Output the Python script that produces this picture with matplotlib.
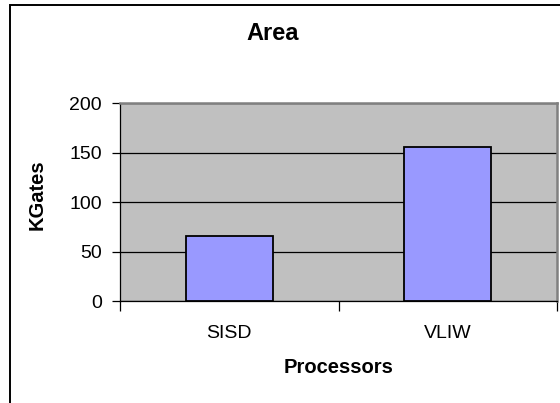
import matplotlib
matplotlib.use("Agg")
import matplotlib.pyplot as plt
from matplotlib.patches import Rectangle

categories = ["SISD", "VLIW"]
kgates = [66, 156]
y_ticks = [0, 50, 100, 150, 200]

plt.rcParams["font.family"] = ["Liberation Sans", "DejaVu Sans"]

fig = plt.figure(figsize=(5.6, 4.03), dpi=100)
W, H = 560, 403

# chart-area frame (runs off the right and bottom edges)
fig.patches.append(Rectangle((10 / W, -0.05), 1.0, 1 - 4.5 / H + 0.05,
                             transform=fig.transFigure, fill=False,
                             edgecolor="black", linewidth=1.4, zorder=0))

ax = fig.add_axes([120 / W, 1 - 301 / H, (557 - 120) / W, (301 - 103) / H])
ax.set_facecolor("#C0C0C0")

x = list(range(len(categories)))
ax.bar(x, kgates, width=0.4, color="#9999FF", edgecolor="black",
       linewidth=1.3, zorder=3)

ax.set_xlim(-0.5, len(categories) - 0.5)
ax.set_ylim(0, 200)
ax.set_yticks(y_ticks)
ax.yaxis.grid(True, color="black", linewidth=0.9, zorder=1)
ax.set_axisbelow(True)

ax.set_xticks(x)
ax.set_xticklabels(categories, fontsize=14)
ax.set_xticks([i - 0.5 for i in range(len(categories) + 1)], minor=True)
ax.tick_params(axis="x", which="major", length=0, pad=17)
ax.tick_params(axis="x", which="minor", length=7, width=0.9, color="black")
ax.tick_params(axis="y", length=6, width=0.9, labelsize=14, pad=7)

for side in ("top", "right"):
    ax.spines[side].set_color("#808080")
    ax.spines[side].set_linewidth(1.8)
for side in ("left", "bottom"):
    ax.spines[side].set_color("black")
    ax.spines[side].set_linewidth(0.9)

ax.set_xlabel("Processors", fontsize=14.5, fontweight="bold", labelpad=12)
ax.set_ylabel("KGates", fontsize=14.5, fontweight="bold", va="center")
ax.yaxis.set_label_coords(-0.19, 0.535)
fig.text(273 / W, 1 - 33 / H, "Area", ha="center", va="center",
         fontsize=17, fontweight="bold")

fig.savefig("out.png", dpi=100)
